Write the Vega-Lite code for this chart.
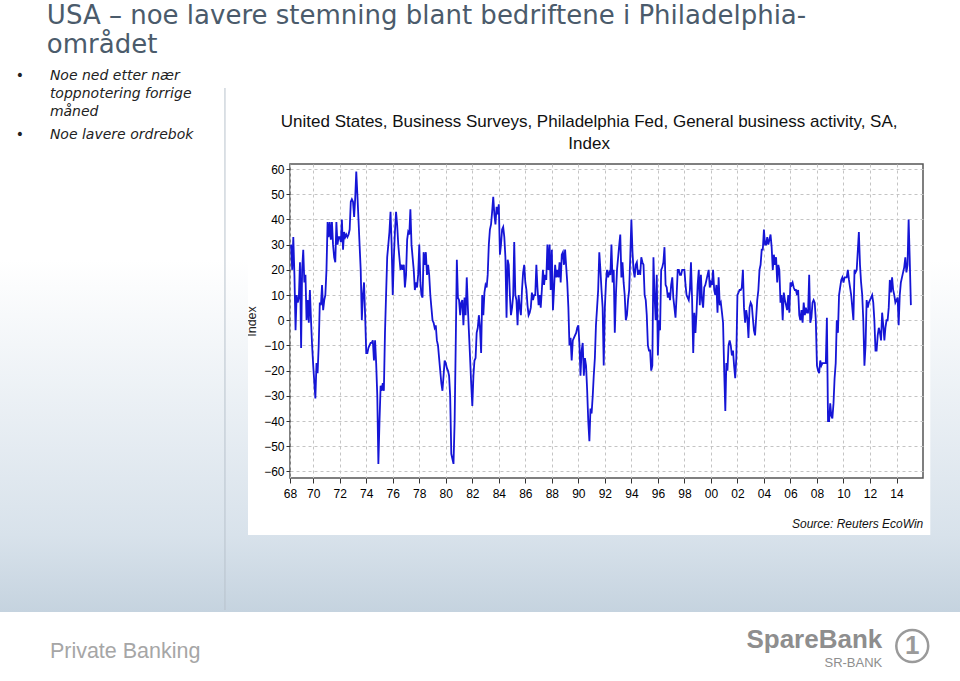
{
  "$schema": "https://vega.github.io/schema/vega-lite/v6.json",
  "width": 633,
  "height": 314,
  "autosize": {"type": "none"},
  "padding": {"left": 290, "top": 164, "right": 37, "bottom": 203},
  "background": "#ffffff",
  "config": {
    "view": {"stroke": "#555555", "strokeWidth": 1.5},
    "style": {
      "guide-label": {"font": "Liberation Sans", "fontSize": 12, "fill": "#000000"},
      "guide-title": {"font": "Liberation Sans", "fontSize": 12.5, "fontWeight": "normal", "fill": "#222222"}
    },
    "axis": {
      "domain": false,
      "grid": true,
      "gridColor": "#c4c4c4",
      "gridDash": [3, 3],
      "gridWidth": 1,
      "tickColor": "#333333",
      "labelFont": "Liberation Sans",
      "labelFontSize": 12,
      "labelColor": "#000000",
      "labelFlush": false,
      "labelOverlap": false,
      "titleFont": "Liberation Sans",
      "titleFontWeight": "normal",
      "titleFontSize": 12.5,
      "titleColor": "#222222"
    }
  },
  "resolve": {"axis": {"x": "independent", "y": "independent"}},
  "data": {"values": [{}]},
  "datasets": {
    "pf": [
      {"d":"1968-05","v":30},{"d":"1968-06","v":20},{"d":"1968-07","v":33},{"d":"1968-08","v":18},{"d":"1968-09","v":-4},{"d":"1968-10","v":10},{"d":"1968-11","v":7},{"d":"1968-12","v":9},
      {"d":"1969-01","v":23},{"d":"1969-02","v":-11},{"d":"1969-03","v":20},{"d":"1969-04","v":28},{"d":"1969-05","v":15},{"d":"1969-06","v":18},{"d":"1969-07","v":0},{"d":"1969-08","v":8},{"d":"1969-09","v":-1},{"d":"1969-10","v":12},{"d":"1969-11","v":0},{"d":"1969-12","v":-10},
      {"d":"1970-01","v":-18},{"d":"1970-02","v":-25},{"d":"1970-03","v":-31},{"d":"1970-04","v":-17},{"d":"1970-05","v":-21},{"d":"1970-06","v":-10},{"d":"1970-07","v":7},{"d":"1970-08","v":6},{"d":"1970-09","v":14},{"d":"1970-10","v":4},{"d":"1970-11","v":8},{"d":"1970-12","v":10},
      {"d":"1971-01","v":20},{"d":"1971-02","v":39},{"d":"1971-03","v":33},{"d":"1971-04","v":39},{"d":"1971-05","v":32},{"d":"1971-06","v":39},{"d":"1971-07","v":30},{"d":"1971-08","v":25},{"d":"1971-09","v":23},{"d":"1971-10","v":39},{"d":"1971-11","v":30},{"d":"1971-12","v":33},
      {"d":"1972-01","v":33},{"d":"1972-02","v":31},{"d":"1972-03","v":40},{"d":"1972-04","v":28},{"d":"1972-05","v":35},{"d":"1972-06","v":33},{"d":"1972-07","v":34},{"d":"1972-08","v":33},{"d":"1972-09","v":34},{"d":"1972-10","v":36},{"d":"1972-11","v":47},{"d":"1972-12","v":48},
      {"d":"1973-01","v":47},{"d":"1973-02","v":41},{"d":"1973-03","v":48},{"d":"1973-04","v":59},{"d":"1973-05","v":50},{"d":"1973-06","v":40},{"d":"1973-07","v":30},{"d":"1973-08","v":20},{"d":"1973-09","v":0},{"d":"1973-10","v":10},{"d":"1973-11","v":15},{"d":"1973-12","v":2},
      {"d":"1974-01","v":-13},{"d":"1974-02","v":-13},{"d":"1974-03","v":-11},{"d":"1974-04","v":-10},{"d":"1974-05","v":-9},{"d":"1974-06","v":-9},{"d":"1974-07","v":-8},{"d":"1974-08","v":-16},{"d":"1974-09","v":-8},{"d":"1974-10","v":-17},{"d":"1974-11","v":-30},{"d":"1974-12","v":-57},
      {"d":"1975-01","v":-40},{"d":"1975-02","v":-26},{"d":"1975-03","v":-28},{"d":"1975-04","v":-25},{"d":"1975-05","v":-28},{"d":"1975-06","v":-5},{"d":"1975-07","v":10},{"d":"1975-08","v":25},{"d":"1975-09","v":30},{"d":"1975-10","v":35},{"d":"1975-11","v":43},{"d":"1975-12","v":30},
      {"d":"1976-01","v":10},{"d":"1976-02","v":25},{"d":"1976-03","v":35},{"d":"1976-04","v":43},{"d":"1976-05","v":38},{"d":"1976-06","v":30},{"d":"1976-07","v":25},{"d":"1976-08","v":20},{"d":"1976-09","v":22},{"d":"1976-10","v":20},{"d":"1976-11","v":22},{"d":"1976-12","v":13},
      {"d":"1977-01","v":18},{"d":"1977-02","v":32},{"d":"1977-03","v":35},{"d":"1977-04","v":34},{"d":"1977-05","v":44},{"d":"1977-06","v":30},{"d":"1977-07","v":25},{"d":"1977-08","v":20},{"d":"1977-09","v":12},{"d":"1977-10","v":15},{"d":"1977-11","v":13},{"d":"1977-12","v":18},
      {"d":"1978-01","v":30},{"d":"1978-02","v":15},{"d":"1978-03","v":10},{"d":"1978-04","v":9},{"d":"1978-05","v":27},{"d":"1978-06","v":22},{"d":"1978-07","v":27},{"d":"1978-08","v":18},{"d":"1978-09","v":22},{"d":"1978-10","v":18},{"d":"1978-11","v":10},{"d":"1978-12","v":5},
      {"d":"1979-01","v":0},{"d":"1979-02","v":-1},{"d":"1979-03","v":-3},{"d":"1979-04","v":-2},{"d":"1979-05","v":-8},{"d":"1979-06","v":-10},{"d":"1979-07","v":-15},{"d":"1979-08","v":-20},{"d":"1979-09","v":-25},{"d":"1979-10","v":-28},{"d":"1979-11","v":-22},{"d":"1979-12","v":-16},
      {"d":"1980-01","v":-17},{"d":"1980-02","v":-19},{"d":"1980-03","v":-20},{"d":"1980-04","v":-22},{"d":"1980-05","v":-30},{"d":"1980-06","v":-53},{"d":"1980-07","v":-55},{"d":"1980-08","v":-57},{"d":"1980-09","v":-40},{"d":"1980-10","v":-10},{"d":"1980-11","v":24},{"d":"1980-12","v":9},
      {"d":"1981-01","v":8},{"d":"1981-02","v":2},{"d":"1981-03","v":7},{"d":"1981-04","v":8},{"d":"1981-05","v":-2},{"d":"1981-06","v":9},{"d":"1981-07","v":2},{"d":"1981-08","v":17},{"d":"1981-09","v":5},{"d":"1981-10","v":-5},{"d":"1981-11","v":-15},{"d":"1981-12","v":-25},
      {"d":"1982-01","v":-34},{"d":"1982-02","v":-22},{"d":"1982-03","v":-16},{"d":"1982-04","v":-15},{"d":"1982-05","v":-5},{"d":"1982-06","v":-3},{"d":"1982-07","v":2},{"d":"1982-08","v":-3},{"d":"1982-09","v":-13},{"d":"1982-10","v":10},{"d":"1982-11","v":2},{"d":"1982-12","v":11},
      {"d":"1983-01","v":14},{"d":"1983-02","v":13},{"d":"1983-03","v":18},{"d":"1983-04","v":30},{"d":"1983-05","v":36},{"d":"1983-06","v":38},{"d":"1983-07","v":43},{"d":"1983-08","v":49},{"d":"1983-09","v":42},{"d":"1983-10","v":38},{"d":"1983-11","v":45},{"d":"1983-12","v":42},
      {"d":"1984-01","v":46},{"d":"1984-02","v":26},{"d":"1984-03","v":30},{"d":"1984-04","v":36},{"d":"1984-05","v":37},{"d":"1984-06","v":33},{"d":"1984-07","v":25},{"d":"1984-08","v":1},{"d":"1984-09","v":24},{"d":"1984-10","v":22},{"d":"1984-11","v":10},{"d":"1984-12","v":2},
      {"d":"1985-01","v":5},{"d":"1985-02","v":10},{"d":"1985-03","v":31},{"d":"1985-04","v":10},{"d":"1985-05","v":8},{"d":"1985-06","v":-2},{"d":"1985-07","v":10},{"d":"1985-08","v":5},{"d":"1985-09","v":2},{"d":"1985-10","v":12},{"d":"1985-11","v":19},{"d":"1985-12","v":22},
      {"d":"1986-01","v":15},{"d":"1986-02","v":12},{"d":"1986-03","v":6},{"d":"1986-04","v":2},{"d":"1986-05","v":3},{"d":"1986-06","v":5},{"d":"1986-07","v":11},{"d":"1986-08","v":8},{"d":"1986-09","v":10},{"d":"1986-10","v":10},{"d":"1986-11","v":22},{"d":"1986-12","v":13},
      {"d":"1987-01","v":6},{"d":"1987-02","v":10},{"d":"1987-03","v":5},{"d":"1987-04","v":12},{"d":"1987-05","v":20},{"d":"1987-06","v":14},{"d":"1987-07","v":18},{"d":"1987-08","v":16},{"d":"1987-09","v":30},{"d":"1987-10","v":20},{"d":"1987-11","v":30},{"d":"1987-12","v":12},
      {"d":"1988-01","v":28},{"d":"1988-02","v":4},{"d":"1988-03","v":12},{"d":"1988-04","v":22},{"d":"1988-05","v":17},{"d":"1988-06","v":20},{"d":"1988-07","v":17},{"d":"1988-08","v":23},{"d":"1988-09","v":15},{"d":"1988-10","v":26},{"d":"1988-11","v":27},{"d":"1988-12","v":22},
      {"d":"1989-01","v":28},{"d":"1989-02","v":21},{"d":"1989-03","v":15},{"d":"1989-04","v":5},{"d":"1989-05","v":-10},{"d":"1989-06","v":-7},{"d":"1989-07","v":-16},{"d":"1989-08","v":-8},{"d":"1989-09","v":-7},{"d":"1989-10","v":-6},{"d":"1989-11","v":-5},{"d":"1989-12","v":-3},
      {"d":"1990-01","v":-2},{"d":"1990-02","v":-10},{"d":"1990-03","v":-22},{"d":"1990-04","v":-12},{"d":"1990-05","v":-9},{"d":"1990-06","v":-22},{"d":"1990-07","v":-15},{"d":"1990-08","v":-18},{"d":"1990-09","v":-28},{"d":"1990-10","v":-40},{"d":"1990-11","v":-48},{"d":"1990-12","v":-35},
      {"d":"1991-01","v":-37},{"d":"1991-02","v":-30},{"d":"1991-03","v":-22},{"d":"1991-04","v":-15},{"d":"1991-05","v":-2},{"d":"1991-06","v":5},{"d":"1991-07","v":12},{"d":"1991-08","v":27},{"d":"1991-09","v":20},{"d":"1991-10","v":12},{"d":"1991-11","v":5},{"d":"1991-12","v":-18},
      {"d":"1992-01","v":5},{"d":"1992-02","v":15},{"d":"1992-03","v":20},{"d":"1992-04","v":17},{"d":"1992-05","v":19},{"d":"1992-06","v":18},{"d":"1992-07","v":30},{"d":"1992-08","v":15},{"d":"1992-09","v":20},{"d":"1992-10","v":-5},{"d":"1992-11","v":10},{"d":"1992-12","v":20},
      {"d":"1993-01","v":25},{"d":"1993-02","v":30},{"d":"1993-03","v":34},{"d":"1993-04","v":17},{"d":"1993-05","v":23},{"d":"1993-06","v":15},{"d":"1993-07","v":10},{"d":"1993-08","v":0},{"d":"1993-09","v":2},{"d":"1993-10","v":8},{"d":"1993-11","v":12},{"d":"1993-12","v":25},
      {"d":"1994-01","v":40},{"d":"1994-02","v":27},{"d":"1994-03","v":20},{"d":"1994-04","v":17},{"d":"1994-05","v":22},{"d":"1994-06","v":23},{"d":"1994-07","v":18},{"d":"1994-08","v":20},{"d":"1994-09","v":18},{"d":"1994-10","v":25},{"d":"1994-11","v":23},{"d":"1994-12","v":22},
      {"d":"1995-01","v":10},{"d":"1995-02","v":8},{"d":"1995-03","v":2},{"d":"1995-04","v":-10},{"d":"1995-05","v":-12},{"d":"1995-06","v":-12},{"d":"1995-07","v":-20},{"d":"1995-08","v":-18},{"d":"1995-09","v":25},{"d":"1995-10","v":10},{"d":"1995-11","v":0},{"d":"1995-12","v":18},
      {"d":"1996-01","v":-14},{"d":"1996-02","v":0},{"d":"1996-03","v":-4},{"d":"1996-04","v":20},{"d":"1996-05","v":21},{"d":"1996-06","v":23},{"d":"1996-07","v":29},{"d":"1996-08","v":14},{"d":"1996-09","v":13},{"d":"1996-10","v":9},{"d":"1996-11","v":11},{"d":"1996-12","v":8},
      {"d":"1997-01","v":14},{"d":"1997-02","v":17},{"d":"1997-03","v":9},{"d":"1997-04","v":5},{"d":"1997-05","v":1},{"d":"1997-06","v":10},{"d":"1997-07","v":20},{"d":"1997-08","v":20},{"d":"1997-09","v":18},{"d":"1997-10","v":18},{"d":"1997-11","v":20},{"d":"1997-12","v":20},
      {"d":"1998-01","v":20},{"d":"1998-02","v":14},{"d":"1998-03","v":10},{"d":"1998-04","v":9},{"d":"1998-05","v":8},{"d":"1998-06","v":12},{"d":"1998-07","v":23},{"d":"1998-08","v":8},{"d":"1998-09","v":-13},{"d":"1998-10","v":3},{"d":"1998-11","v":-5},{"d":"1998-12","v":3},
      {"d":"1999-01","v":14},{"d":"1999-02","v":20},{"d":"1999-03","v":6},{"d":"1999-04","v":18},{"d":"1999-05","v":8},{"d":"1999-06","v":5},{"d":"1999-07","v":13},{"d":"1999-08","v":14},{"d":"1999-09","v":16},{"d":"1999-10","v":18},{"d":"1999-11","v":20},{"d":"1999-12","v":13},
      {"d":"2000-01","v":15},{"d":"2000-02","v":14},{"d":"2000-03","v":20},{"d":"2000-04","v":12},{"d":"2000-05","v":10},{"d":"2000-06","v":14},{"d":"2000-07","v":3},{"d":"2000-08","v":17},{"d":"2000-09","v":6},{"d":"2000-10","v":7},{"d":"2000-11","v":3},{"d":"2000-12","v":-1},
      {"d":"2001-01","v":-20},{"d":"2001-02","v":-36},{"d":"2001-03","v":-17},{"d":"2001-04","v":-20},{"d":"2001-05","v":-10},{"d":"2001-06","v":-8},{"d":"2001-07","v":-10},{"d":"2001-08","v":-14},{"d":"2001-09","v":-12},{"d":"2001-10","v":-18},{"d":"2001-11","v":-23},{"d":"2001-12","v":-15},
      {"d":"2002-01","v":10},{"d":"2002-02","v":11},{"d":"2002-03","v":12},{"d":"2002-04","v":12},{"d":"2002-05","v":13},{"d":"2002-06","v":20},{"d":"2002-07","v":5},{"d":"2002-08","v":-1},{"d":"2002-09","v":4},{"d":"2002-10","v":1},{"d":"2002-11","v":-7},{"d":"2002-12","v":5},
      {"d":"2003-01","v":7},{"d":"2003-02","v":6},{"d":"2003-03","v":1},{"d":"2003-04","v":-4},{"d":"2003-05","v":-6},{"d":"2003-06","v":1},{"d":"2003-07","v":8},{"d":"2003-08","v":12},{"d":"2003-09","v":20},{"d":"2003-10","v":22},{"d":"2003-11","v":28},{"d":"2003-12","v":28},
      {"d":"2004-01","v":36},{"d":"2004-02","v":30},{"d":"2004-03","v":30},{"d":"2004-04","v":33},{"d":"2004-05","v":30},{"d":"2004-06","v":32},{"d":"2004-07","v":34},{"d":"2004-08","v":29},{"d":"2004-09","v":20},{"d":"2004-10","v":26},{"d":"2004-11","v":22},{"d":"2004-12","v":25},
      {"d":"2005-01","v":15},{"d":"2005-02","v":22},{"d":"2005-03","v":20},{"d":"2005-04","v":7},{"d":"2005-05","v":10},{"d":"2005-06","v":0},{"d":"2005-07","v":11},{"d":"2005-08","v":8},{"d":"2005-09","v":6},{"d":"2005-10","v":4},{"d":"2005-11","v":10},{"d":"2005-12","v":3},
      {"d":"2006-01","v":15},{"d":"2006-02","v":14},{"d":"2006-03","v":15},{"d":"2006-04","v":13},{"d":"2006-05","v":12},{"d":"2006-06","v":12},{"d":"2006-07","v":10},{"d":"2006-08","v":12},{"d":"2006-09","v":2},{"d":"2006-10","v":0},{"d":"2006-11","v":4},{"d":"2006-12","v":-1},
      {"d":"2007-01","v":7},{"d":"2007-02","v":2},{"d":"2007-03","v":5},{"d":"2007-04","v":3},{"d":"2007-05","v":3},{"d":"2007-06","v":18},{"d":"2007-07","v":-1},{"d":"2007-08","v":1},{"d":"2007-09","v":7},{"d":"2007-10","v":8},{"d":"2007-11","v":7},{"d":"2007-12","v":0},
      {"d":"2008-01","v":-18},{"d":"2008-02","v":-20},{"d":"2008-03","v":-21},{"d":"2008-04","v":-16},{"d":"2008-05","v":-18},{"d":"2008-06","v":-17},{"d":"2008-07","v":-17},{"d":"2008-08","v":-17},{"d":"2008-09","v":-17},{"d":"2008-10","v":1},{"d":"2008-11","v":-40},{"d":"2008-12","v":-40},
      {"d":"2009-01","v":-33},{"d":"2009-02","v":-38},{"d":"2009-03","v":-39},{"d":"2009-04","v":-33},{"d":"2009-05","v":-23},{"d":"2009-06","v":-17},{"d":"2009-07","v":0},{"d":"2009-08","v":-5},{"d":"2009-09","v":10},{"d":"2009-10","v":13},{"d":"2009-11","v":16},{"d":"2009-12","v":17},
      {"d":"2010-01","v":15},{"d":"2010-02","v":17},{"d":"2010-03","v":17},{"d":"2010-04","v":17},{"d":"2010-05","v":20},{"d":"2010-06","v":16},{"d":"2010-07","v":13},{"d":"2010-08","v":10},{"d":"2010-09","v":5},{"d":"2010-10","v":0},{"d":"2010-11","v":20},{"d":"2010-12","v":19},
      {"d":"2011-01","v":20},{"d":"2011-02","v":28},{"d":"2011-03","v":35},{"d":"2011-04","v":22},{"d":"2011-05","v":15},{"d":"2011-06","v":10},{"d":"2011-07","v":0},{"d":"2011-08","v":-18},{"d":"2011-09","v":-10},{"d":"2011-10","v":8},{"d":"2011-11","v":5},{"d":"2011-12","v":7},
      {"d":"2012-01","v":8},{"d":"2012-02","v":9},{"d":"2012-03","v":10},{"d":"2012-04","v":7},{"d":"2012-05","v":0},{"d":"2012-06","v":-12},{"d":"2012-07","v":-12},{"d":"2012-08","v":-6},{"d":"2012-09","v":-3},{"d":"2012-10","v":-5},{"d":"2012-11","v":-8},{"d":"2012-12","v":3},
      {"d":"2013-01","v":-2},{"d":"2013-02","v":-8},{"d":"2013-03","v":-3},{"d":"2013-04","v":0},{"d":"2013-05","v":0},{"d":"2013-06","v":5},{"d":"2013-07","v":16},{"d":"2013-08","v":11},{"d":"2013-09","v":17},{"d":"2013-10","v":12},{"d":"2013-11","v":10},{"d":"2013-12","v":7},
      {"d":"2014-01","v":8},{"d":"2014-02","v":9},{"d":"2014-03","v":-2},{"d":"2014-04","v":10},{"d":"2014-05","v":15},{"d":"2014-06","v":17},{"d":"2014-07","v":19},{"d":"2014-08","v":21},{"d":"2014-09","v":25},{"d":"2014-10","v":19},{"d":"2014-11","v":22},{"d":"2014-12","v":40},
      {"d":"2015-01","v":24},{"d":"2015-02","v":6}
    ]
  },
  "layer": [
    {
      "data": {"name": "pf"},
      "mark": {"type": "line", "color": "#1515d6", "strokeWidth": 1.8, "clip": true},
      "encoding": {
        "x": {
          "field": "d", "type": "temporal",
          "scale": {"type": "utc", "domain": [{"year": 1968, "month": 4, "date": 1, "utc": true}, {"year": 2016, "month": 1, "date": 1, "utc": true}]},
          "axis": {
            "title": null,
            "tickSize": 5,
            "labelPadding": 5,
            "labelFont": "Liberation Sans",
            "labelFontSize": 12,
            "labelColor": "#000000",
            "labelOverlap": false,
            "labelFlush": false,
            "labelBound": false,
            "labelExpr": "utcFormat(datum.value, '%y')",
            "values": [
              {"year": 1968, "month": 4, "date": 1, "utc": true},
              {"year": 1970, "utc": true}, {"year": 1972, "utc": true}, {"year": 1974, "utc": true}, {"year": 1976, "utc": true},
              {"year": 1978, "utc": true}, {"year": 1980, "utc": true}, {"year": 1982, "utc": true}, {"year": 1984, "utc": true},
              {"year": 1986, "utc": true}, {"year": 1988, "utc": true}, {"year": 1990, "utc": true}, {"year": 1992, "utc": true},
              {"year": 1994, "utc": true}, {"year": 1996, "utc": true}, {"year": 1998, "utc": true}, {"year": 2000, "utc": true},
              {"year": 2002, "utc": true}, {"year": 2004, "utc": true}, {"year": 2006, "utc": true}, {"year": 2008, "utc": true},
              {"year": 2010, "utc": true}, {"year": 2012, "utc": true}, {"year": 2014, "utc": true}
            ]
          }
        },
        "y": {
          "field": "v", "type": "quantitative",
          "scale": {"domain": [-62.6, 62], "nice": false, "zero": false},
          "axis": {
            "title": "Index",
            "titleFont": "Liberation Sans",
            "titleFontSize": 12.5,
            "titleFontWeight": "normal",
            "titleColor": "#222222",
            "titlePadding": 5,
            "tickSize": 4,
            "labelPadding": 2,
            "labelFont": "Liberation Sans",
            "labelFontSize": 12,
            "labelColor": "#000000",
            "labelOverlap": false,
            "labelFlush": false,
            "labelBound": false,
            "values": [-60, -50, -40, -30, -20, -10, 0, 10, 20, 30, 40, 50, 60]
          }
        }
      }
    },
    {
      "mark": {"type": "rect", "color": {"gradient": "linear", "x1": 0, "y1": 0, "x2": 0, "y2": 1, "stops": [{"offset": 0, "color": "#d8e2eb"}, {"offset": 1, "color": "#c5d3df"}]}},
      "encoding": {
        "x": {"datum": {"year": 1940, "utc": true}, "type": "temporal", "axis": null},
        "x2": {"datum": {"year": 2030, "utc": true}},
        "y": {"datum": -85.22, "type": "quantitative", "axis": null},
        "y2": {"datum": -115.78}
      }
    },
    {
      "mark": {"type": "rect", "color": {"gradient": "linear", "x1": 0, "y1": 0, "x2": 0, "y2": 1, "stops": [{"offset": 0, "color": "#ffffff"}, {"offset": 0.42, "color": "#ffffff"}, {"offset": 1, "color": "#d8e2eb"}]}},
      "encoding": {
        "x": {"datum": {"year": 1940, "utc": true}, "type": "temporal", "axis": null},
        "x2": {"datum": {"year": 1965, "month": 1, "date": 30, "utc": true}},
        "y": {"datum": 103.27, "type": "quantitative", "axis": null},
        "y2": {"datum": -85.22}
      }
    },
    {
      "mark": {"type": "rect", "color": {"gradient": "linear", "x1": 0, "y1": 0, "x2": 0, "y2": 1, "stops": [{"offset": 0, "color": "#ffffff"}, {"offset": 0.42, "color": "#ffffff"}, {"offset": 1, "color": "#d8e2eb"}]}},
      "encoding": {
        "x": {"datum": {"year": 2016, "month": 7, "date": 20, "utc": true}, "type": "temporal", "axis": null},
        "x2": {"datum": {"year": 2030, "utc": true}},
        "y": {"datum": 103.27, "type": "quantitative", "axis": null},
        "y2": {"datum": -85.22}
      }
    },
    {
      "mark": {"type": "rule", "color": "#b8c2cc", "strokeWidth": 1},
      "encoding": {
        "x": {"datum": {"year": 1963, "month": 5, "date": 6, "utc": true}, "type": "temporal", "axis": null},
        "y": {"datum": 92.16, "type": "quantitative", "axis": null},
        "y2": {"datum": -114.98}
      }
    },
    {
      "mark": {"type": "text", "font": "DejaVu Sans", "fontSize": 26, "color": "#4b5b6b", "align": "left", "baseline": "alphabetic", "lineHeight": 29},
      "encoding": {
        "x": {"datum": {"year": 1949, "month": 11, "date": 28, "utc": true}, "type": "temporal", "axis": null},
        "y": {"datum": 117.75, "type": "quantitative", "axis": null},
        "text": {"value": ["USA – noe lavere stemning blant bedriftene i Philadelphia-", "området"]}
      }
    },
    {
      "mark": {"type": "text", "font": "DejaVu Sans", "fontSize": 14, "color": "#222222", "align": "center", "baseline": "alphabetic", "lineHeight": 59},
      "encoding": {
        "x": {"datum": {"year": 1947, "month": 11, "date": 15, "utc": true}, "type": "temporal", "axis": null},
        "y": {"datum": 95.33, "type": "quantitative", "axis": null},
        "text": {"value": ["•", "•"]}
      }
    },
    {
      "mark": {"type": "text", "font": "DejaVu Sans", "fontSize": 14, "fontStyle": "italic", "color": "#222222", "align": "left", "baseline": "alphabetic", "lineHeight": 18},
      "encoding": {
        "x": {"datum": {"year": 1950, "month": 2, "date": 19, "utc": true}, "type": "temporal", "axis": null},
        "y": {"datum": 95.33, "type": "quantitative", "axis": null},
        "text": {"value": ["Noe ned etter nær", "toppnotering forrige", "måned"]}
      }
    },
    {
      "mark": {"type": "text", "font": "DejaVu Sans", "fontSize": 14, "fontStyle": "italic", "color": "#222222", "align": "left", "baseline": "alphabetic"},
      "encoding": {
        "x": {"datum": {"year": 1950, "month": 2, "date": 19, "utc": true}, "type": "temporal", "axis": null},
        "y": {"datum": 71.92, "type": "quantitative", "axis": null},
        "text": {"value": "Noe lavere ordrebok"}
      }
    },
    {
      "mark": {"type": "text", "font": "Liberation Sans", "fontSize": 17, "color": "#111111", "align": "center", "baseline": "alphabetic", "lineHeight": 22},
      "encoding": {
        "x": {"datum": {"year": 1990, "month": 10, "date": 25, "utc": true}, "type": "temporal", "axis": null},
        "y": {"datum": 76.68, "type": "quantitative", "axis": null},
        "text": {"value": ["United States, Business Surveys, Philadelphia Fed, General business activity, SA,", "Index"]}
      }
    },
    {
      "mark": {"type": "text", "font": "Liberation Sans", "fontSize": 12, "fontStyle": "italic", "color": "#111111", "align": "right", "baseline": "alphabetic"},
      "encoding": {
        "x": {"datum": {"year": 2016, "month": 1, "date": 9, "utc": true}, "type": "temporal", "axis": null},
        "y": {"datum": -82.44, "type": "quantitative", "axis": null},
        "text": {"value": "Source: Reuters EcoWin"}
      }
    },
    {
      "mark": {"type": "text", "font": "Liberation Sans", "fontSize": 21.5, "color": "#a6a6a6", "align": "left", "baseline": "alphabetic"},
      "encoding": {
        "x": {"datum": {"year": 1950, "month": 2, "date": 19, "utc": true}, "type": "temporal", "axis": null},
        "y": {"datum": -134.03, "type": "quantitative", "axis": null},
        "text": {"value": "Private Banking"}
      }
    },
    {
      "mark": {"type": "text", "font": "Liberation Sans", "fontSize": 26, "fontWeight": "bold", "color": "#8e8e8e", "align": "right", "baseline": "alphabetic"},
      "encoding": {
        "x": {"datum": {"year": 2012, "month": 12, "date": 5, "utc": true}, "type": "temporal", "axis": null},
        "y": {"datum": -130.06, "type": "quantitative", "axis": null},
        "text": {"value": "SpareBank"}
      }
    },
    {
      "mark": {"type": "text", "font": "Liberation Sans", "fontSize": 13, "color": "#8e8e8e", "align": "right", "baseline": "alphabetic"},
      "encoding": {
        "x": {"datum": {"year": 2012, "month": 12, "date": 5, "utc": true}, "type": "temporal", "axis": null},
        "y": {"datum": -137.6, "type": "quantitative", "axis": null},
        "text": {"value": "SR-BANK"}
      }
    },
    {
      "mark": {"type": "point", "shape": "circle", "size": 1018, "filled": false, "stroke": "#9a9a9a", "strokeWidth": 2.5, "opacity": 1},
      "encoding": {
        "x": {"datum": {"year": 2015, "month": 3, "date": 11, "utc": true}, "type": "temporal", "axis": null},
        "y": {"datum": -129.27, "type": "quantitative", "axis": null}
      }
    },
    {
      "mark": {"type": "text", "font": "Liberation Sans", "fontSize": 26, "fontWeight": "bold", "color": "#9a9a9a", "align": "center", "baseline": "middle"},
      "encoding": {
        "x": {"datum": {"year": 2015, "month": 3, "date": 11, "utc": true}, "type": "temporal", "axis": null},
        "y": {"datum": -129.27, "type": "quantitative", "axis": null},
        "text": {"value": "1"}
      }
    }
  ]
}
